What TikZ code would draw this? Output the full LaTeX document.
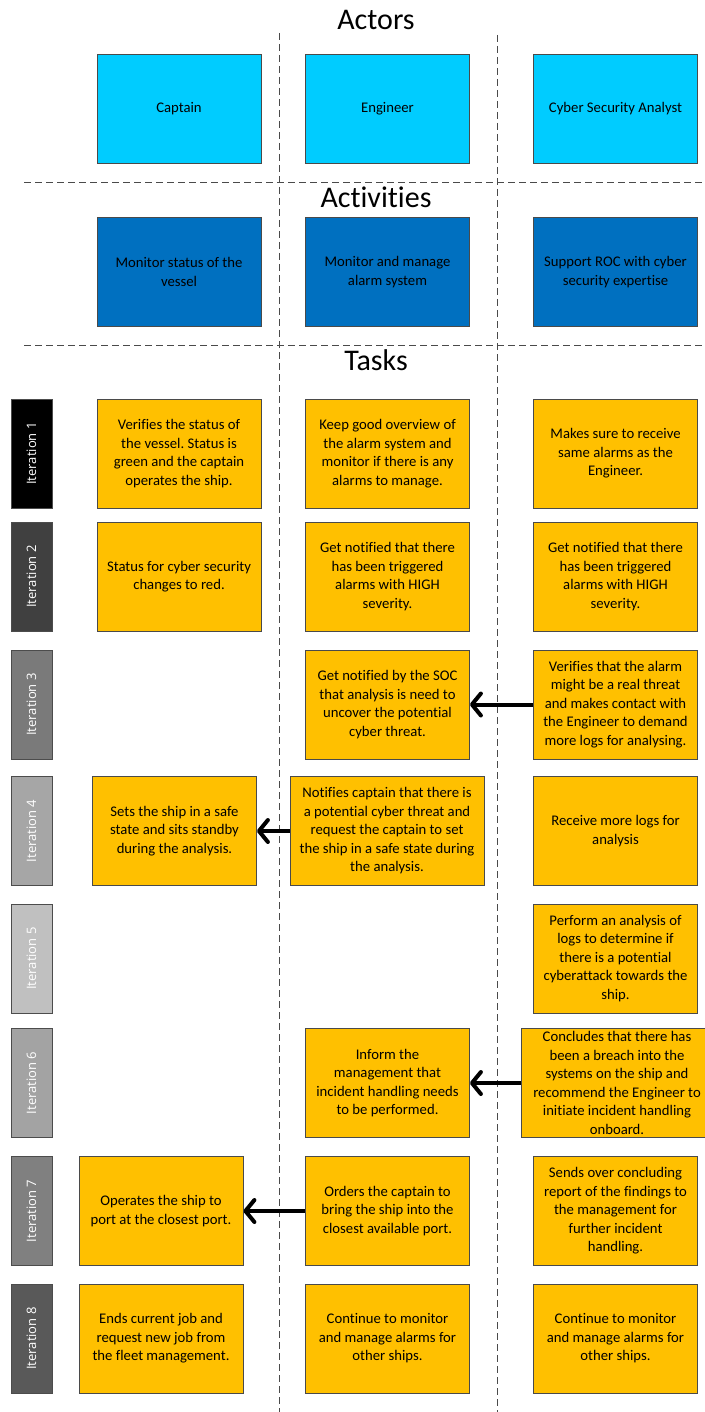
\documentclass[tikz,border=0pt]{standalone}
\usepackage{fontspec}
\setmainfont{Carlito}[Ligatures=NoCommon]
\newfontfamily\iterfont{Open Sans}
\usetikzlibrary{arrows.meta}
\frenchspacing
\definecolor{actorc}{HTML}{00CCFF}
\definecolor{actc}{HTML}{0070C0}
\definecolor{taskc}{HTML}{FFC000}
\definecolor{edgec}{HTML}{4A4A4A}
\definecolor{itA}{HTML}{000000}
\definecolor{itB}{HTML}{404040}
\definecolor{itC}{HTML}{7A7A7A}
\definecolor{itD}{HTML}{A6A6A6}
\definecolor{itE}{HTML}{C0C0C0}
\definecolor{itF}{HTML}{A3A3A3}
\definecolor{itG}{HTML}{808080}
\definecolor{itH}{HTML}{595959}
\tikzset{
  boxbase/.style={rectangle, draw=edgec, line width=0.8pt, align=center, inner sep=2pt,
    font=\fontsize{14.7}{18.5}\selectfont, text=black},
  actor/.style={boxbase, fill=actorc, minimum width=164, minimum height=109},
  activity/.style={boxbase, fill=actc, minimum width=164, minimum height=109},
  task/.style={boxbase, fill=taskc, minimum width=164, minimum height=109},
  iter/.style={rectangle, draw=gray!60!black, line width=0.5pt, rotate=90, minimum width=109, minimum height=41,
    font=\iterfont\fontsize{13}{15}\selectfont, text=white, inner sep=0pt},
  header/.style={font=\fontsize{30}{36}\selectfont, anchor=base},
  sep/.style={draw=edgec, line width=0.8pt, dash pattern=on 7pt off 4pt},
  flow/.style={line width=4pt, -{Straight Barb[length=9pt,width=22pt,line cap=round,line join=round]}}
}
\begin{document}
\begin{tikzpicture}[x=1pt,y=-1pt]
\useasboundingbox (0,0) rectangle (704,1412);
% separators
\draw[sep] (24,182) -- (704,182);
\draw[sep] (24,345) -- (704,345);
\draw[sep] (279,33) -- (279,1412);
\draw[sep] (497,35) -- (497,1412);
% headers
\node[header] (hact) at (376,29.5) {Actors};
\node[header] (hacv) at (376,207.5) {Activities};
\node[header] (htask) at (376,370) {Tasks};
% actors
\node[actor] (a1) at (179,108.5) {Captain};
\node[actor] (a2) at (387.5,108.5) {Engineer};
\node[actor] (a3) at (615.5,108.5) {Cyber Security Analyst};
% activities
\node[activity] (v1) at (179,272) {Monitor status of the\\vessel};
\node[activity] (v2) at (387.5,272) {Monitor and manage\\alarm system};
\node[activity] (v3) at (615.5,272) {Support ROC with cyber\\security expertise};
% iterations
\node[iter, fill=itA] (i1) at (31.5,453.5) {Iteration 1};
\node[iter, fill=itB] (i2) at (31.5,576.5) {Iteration 2};
\node[iter, fill=itC] (i3) at (31.5,704.5) {Iteration 3};
\node[iter, fill=itD] (i4) at (31.5,831) {Iteration 4};
\node[iter, fill=itE] (i5) at (31.5,958.5) {Iteration 5};
\node[iter, fill=itF] (i6) at (31.5,1083) {Iteration 6};
\node[iter, fill=itG] (i7) at (31.5,1211) {Iteration 7};
\node[iter, fill=itH] (i8) at (31.5,1338.5) {Iteration 8};
% row 1
\node[task] (c1) at (179,453.5) {Verifies the status of\\the vessel. Status is\\green and the captain\\operates the ship.};
\node[task] (e1) at (387.5,453.5) {Keep good overview of\\the alarm system and\\monitor if there is any\\alarms to manage.};
\node[task] (s1) at (615.5,453.5) {Makes sure to receive\\same alarms as the\\Engineer.};
% row 2
\node[task] (c2) at (179,576.5) {Status for cyber security\\changes to red.};
\node[task] (e2) at (387.5,576.5) {Get notified that there\\has been triggered\\alarms with HIGH\\severity.};
\node[task] (s2) at (615.5,576.5) {Get notified that there\\has been triggered\\alarms with HIGH\\severity.};
% row 3
\node[task] (e3) at (387.5,704.5) {Get notified by the SOC\\that analysis is need to\\uncover the potential\\cyber threat.};
\node[task] (s3) at (615.5,704.5) {Verifies that the alarm\\might be a real threat\\and makes contact with\\the Engineer to demand\\more logs for analysing.};
% row 4
\node[task] (c4) at (174.5,831) {Sets the ship in a safe\\state and sits standby\\during the analysis.};
\node[task, minimum width=194] (e4) at (387,831) {Notifies captain that there is\\a potential cyber threat and\\request the captain to set\\the ship in a safe state during\\the analysis.};
\node[task] (s4) at (615.5,831) {Receive more logs for\\analysis};
% row 5
\node[task] (s5) at (615.5,958.5) {Perform an analysis of\\logs to determine if\\there is a potential\\cyberattack towards the\\ship.};
% row 6
\node[task] (e6) at (387.5,1083) {Inform the\\management that\\incident handling needs\\to be performed.};
\node[task, minimum width=192] (s6) at (617,1083) {Concludes that there has\\been a breach into the\\systems on the ship and\\recommend the Engineer to\\initiate incident handling\\onboard.};
% row 7
\node[task] (c7) at (161,1211) {Operates the ship to\\port at the closest port.};
\node[task] (e7) at (387.5,1211) {Orders the captain to\\bring the ship into the\\closest available port.};
\node[task] (s7) at (615.5,1211) {Sends over concluding\\report of the findings to\\the management for\\further incident\\handling.};
% row 8
\node[task] (c8) at (161,1338.5) {Ends current job and\\request new job from\\the fleet management.};
\node[task] (e8) at (387.5,1338.5) {Continue to monitor\\and manage alarms for\\other ships.};
\node[task] (s8) at (615.5,1338.5) {Continue to monitor\\and manage alarms for\\other ships.};
% arrows
\draw[flow] (s3.west) -- (e3.east);
\draw[flow] (e4.west) -- (c4.east);
\draw[flow] (s6.west) -- (e6.east);
\draw[flow] (e7.west) -- (c7.east);
\end{tikzpicture}
\end{document}
